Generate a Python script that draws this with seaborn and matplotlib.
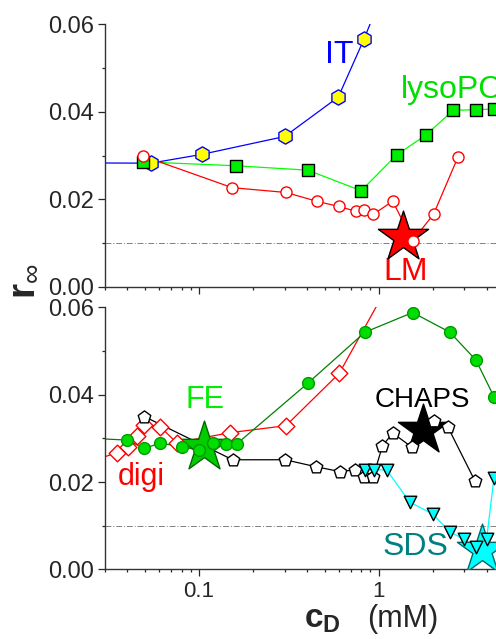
import numpy as np
import matplotlib
matplotlib.use("Agg")
import matplotlib.pyplot as plt
import seaborn as sns
from matplotlib.ticker import FixedLocator, LogLocator, NullFormatter, FormatStrFormatter

# top panel
it_x = [0.01, 0.054, 0.1035, 0.30, 0.596, 0.83, 1.0]
it_y = [0.0284, 0.0283, 0.0303, 0.0344, 0.0434, 0.0567, 0.065]
lyso_x = [0.049, 0.161, 0.403, 0.80, 1.26, 1.83, 2.60, 3.48, 4.40, 6.0]
lyso_y = [0.0286, 0.0277, 0.0267, 0.0220, 0.0302, 0.0347, 0.0404, 0.0405, 0.0407, 0.0409]
lm_x = [0.049, 0.153, 0.305, 0.452, 0.599, 0.748, 0.832, 0.933, 1.197, 1.546, 2.02, 2.77]
lm_y = [0.0299, 0.0227, 0.0216, 0.0196, 0.0184, 0.0173, 0.0176, 0.0166, 0.0196, 0.0106, 0.0166, 0.0298]
lm_star = (1.37, 0.0114)

# bottom panel
fe_x = [0.02, 0.040, 0.0496, 0.0607, 0.080, 0.1004, 0.120, 0.141, 0.162, 0.403, 0.839, 1.546, 2.49, 3.48, 4.40]
fe_y = [0.0302, 0.0296, 0.0277, 0.0289, 0.0281, 0.0273, 0.0290, 0.0287, 0.0287, 0.0426, 0.0543, 0.0588, 0.0543, 0.0479, 0.0394]
fe_star = (0.1066, 0.0281)
digi_x = [0.025, 0.0348, 0.0404, 0.045, 0.0496, 0.0607, 0.0751, 0.149, 0.305, 0.604, 1.2]
digi_y = [0.0247, 0.0267, 0.0281, 0.0306, 0.0331, 0.0327, 0.0290, 0.0313, 0.0329, 0.0449, 0.067]
chaps_x = [0.0496, 0.154, 0.302, 0.448, 0.609, 0.738, 0.828, 0.933, 1.05, 1.197, 1.53, 2.04, 2.42, 3.43]
chaps_y = [0.0350, 0.0251, 0.0251, 0.0235, 0.0224, 0.0228, 0.0211, 0.0212, 0.0283, 0.0312, 0.0280, 0.0340, 0.0327, 0.0203]
chaps_star = (1.76, 0.0319)
sds_x = [0.843, 0.946, 1.107, 1.49, 2.0, 2.49, 2.99, 3.48, 3.99, 4.38]
sds_y = [0.0228, 0.0228, 0.0228, 0.0154, 0.0127, 0.0086, 0.0069, 0.0051, 0.0070, 0.0209]
sds_star = (3.78, 0.0045)

sns.set_style("ticks")
plt.rcParams['font.family'] = ['Liberation Sans', 'DejaVu Sans']
plt.rcParams['mathtext.fontset'] = 'custom'
plt.rcParams['mathtext.rm'] = 'Liberation Sans'
plt.rcParams['mathtext.bf'] = 'Liberation Sans:bold'
plt.rcParams['mathtext.it'] = 'Liberation Sans:italic'

fig = plt.figure(figsize=(4.96, 6.39), dpi=100)
ax1 = fig.add_axes([0.2117, 0.5509, 0.914, 0.4108])
ax2 = fig.add_axes([0.2117, 0.1089, 0.914, 0.4102])


def series(ax, x, y, marker, ms, line, face, edge):
    sns.lineplot(x=x, y=y, ax=ax, color=line, lw=0.9, estimator=None, sort=False, zorder=2)
    sns.scatterplot(x=x, y=y, ax=ax, marker=marker, s=ms ** 2, color=face,
                    edgecolor=edge, linewidth=1, zorder=4)


def star(ax, pt, face, edge):
    sns.scatterplot(x=[pt[0]], y=[pt[1]], ax=ax, marker='*', s=38 ** 2, color=face,
                    edgecolor=edge, linewidth=1, zorder=3)


series(ax1, it_x, it_y, 'h', 11, 'blue', 'yellow', 'blue')
series(ax1, lyso_x, lyso_y, 's', 8.5, '#00ff00', '#00ee00', 'black')
star(ax1, lm_star, 'red', 'black')
series(ax1, lm_x, lm_y, 'o', 8, 'red', 'white', 'red')

star(ax2, fe_star, '#00cc00', '#006600')
star(ax2, chaps_star, 'black', 'black')
star(ax2, sds_star, 'cyan', '#006666')
series(ax2, digi_x, digi_y, 'D', 8.5, 'red', 'white', 'red')
series(ax2, fe_x, fe_y, 'o', 8.5, 'green', '#00dd00', '#009900')
series(ax2, chaps_x, chaps_y, 'p', 9.5, 'black', 'white', 'black')
series(ax2, sds_x, sds_y, 'v', 9, 'cyan', 'cyan', 'black')

for ax in (ax1, ax2):
    ax.set_xscale('log')
    ax.set_xlim(0.03, 10)
    ax.set_ylim(0, 0.06)
    ax.axhline(0.01, color='gray', lw=0.7, ls=(0, (6, 2, 1, 2)), zorder=1)
    ax.xaxis.set_major_locator(FixedLocator([0.1, 1]))
    ax.xaxis.set_minor_locator(LogLocator(base=10, subs=np.arange(2, 10)))
    ax.xaxis.set_minor_formatter(NullFormatter())
    ax.set_yticks([0, 0.02, 0.04, 0.06])
    ax.set_yticks([0.01, 0.03, 0.05], minor=True)
    ax.yaxis.set_major_formatter(FormatStrFormatter('%.2f'))
    ax.tick_params(which='major', length=5, width=0.9, direction='out', labelsize=17, pad=3)
    ax.tick_params(which='minor', length=2.5, width=0.9, direction='out')
    ax.tick_params(axis='x', labelsize=16)
    for s in ('top', 'right'):
        ax.spines[s].set_visible(False)
    for s in ('left', 'bottom'):
        ax.spines[s].set_linewidth(1.0)
        ax.spines[s].set_color('#333333')
    ax.set_xlabel('')
    ax.set_ylabel('')

ax1.set_xticklabels([])
ax2.set_xticklabels(['0.1', '1'])

ax1.text(0.604, 0.053, 'IT', color='blue', fontsize=23, ha='center', va='center')
ax1.text(1.33, 0.045, 'lysoPC', color='#00e000', fontsize=23, ha='left', va='center')
ax1.text(1.41, 0.0035, 'LM', color='red', fontsize=23, ha='center', va='center', zorder=2)

ax2.text(0.108, 0.0388, 'FE', color='#00ee00', fontsize=22, ha='center', va='center')
ax2.text(0.048, 0.0212, 'digi', color='red', fontsize=22, ha='center', va='center')
ax2.text(1.76, 0.0388, 'CHAPS', color='black', fontsize=20, ha='center', va='center')
ax2.text(1.61, 0.0052, 'SDS', color='teal', fontsize=23, ha='center', va='center')

fig.text(0.046, 1 - 281 / 639, r'$\mathbf{r}_{\infty}$', rotation=90, fontsize=28,
         ha='center', va='center')
fig.text(322 / 496, 1 - 628 / 639, r'$\mathbf{c}_{\mathbf{D}}$', fontsize=24,
         ha='center', va='baseline')
fig.text(367 / 496, 1 - 619 / 639, '(mM)', fontsize=22, ha='left', va='center')

fig.savefig('out.png', dpi=100)
